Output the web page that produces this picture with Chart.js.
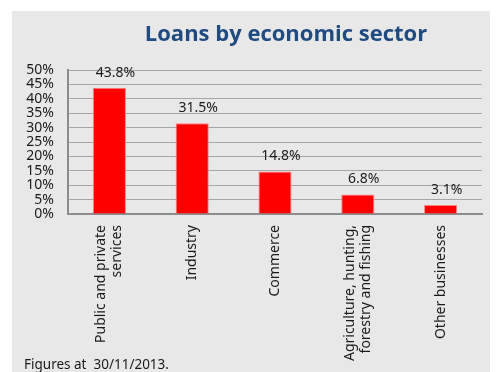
<!DOCTYPE html>
<html>
<head>
<meta charset="utf-8">
<script src="https://cdn.jsdelivr.net/npm/chart.js@4/dist/chart.umd.min.js"></script>
<style>
  html, body { margin: 0; padding: 0; background: #ffffff; }
  #wrap { width: 499px; height: 372px; position: relative; }
</style>
</head>
<body>
<div id="wrap"><canvas id="chart" width="499" height="372"></canvas></div>
<script>
const SECTORS = [
  ["Public and private", "services"],
  ["Industry"],
  ["Commerce"],
  ["Agriculture, hunting,", "forestry and fishing"],
  ["Other businesses"],
];
const SHARES = [43.8, 31.5, 14.8, 6.8, 3.1];
const Y_TICKS = [0, 5, 10, 15, 20, 25, 30, 35, 40, 45, 50];

const TITLE = "Loans by economic sector";
const FOOTNOTE = "Figures at  30/11/2013.";

const FONT = '"Noto Sans", "Open Sans", sans-serif';
const PANEL = "#e8e8e8";
const BAR_RED = "#ff0000";
const TITLE_BLUE = "#1f4b80";

// grey panel, title, footnote, value labels and rotated category labels
const decorations = {
  id: "decorations",
  beforeDraw(chart) {
    const ctx = chart.ctx;
    ctx.save();
    ctx.fillStyle = "#ffffff";
    ctx.fillRect(0, 0, chart.width, chart.height);
    ctx.fillStyle = PANEL;
    ctx.fillRect(12, 11, 478, chart.height - 11);
    ctx.restore();
  },
  afterDraw(chart) {
    const ctx = chart.ctx;
    const xScale = chart.scales.x;
    ctx.save();

    ctx.fillStyle = TITLE_BLUE;
    ctx.font = 'bold 22px "Open Sans", sans-serif';
    ctx.textAlign = "center";
    ctx.textBaseline = "alphabetic";
    ctx.fillText(TITLE, 286, 41);

    ctx.fillStyle = "#1a1a1a";
    ctx.font = "13.5px " + FONT;
    ctx.textAlign = "left";
    ctx.fillText(FOOTNOTE, 24, 369);

    // value labels above bars
    ctx.font = "14px " + FONT;
    const meta = chart.getDatasetMeta(0);
    ctx.textAlign = "center";
    ctx.textBaseline = "bottom";
    meta.data.forEach((bar, i) => {
      ctx.fillText(SHARES[i].toFixed(1) + "%", bar.x + 6, bar.y - 8);
    });

    // category labels, rotated to read bottom-to-top
    const lineH = 16;
    SECTORS.forEach((lines, i) => {
      const px = xScale.getPixelForTick(i);
      ctx.save();
      ctx.translate(px, xScale.top + 11);
      ctx.rotate(-Math.PI / 2);
      ctx.textAlign = "right";
      ctx.textBaseline = "middle";
      const offset = -((lines.length - 1) * lineH) / 2;
      lines.forEach((line, j) => {
        ctx.fillText(line, 0, offset + j * lineH);
      });
      ctx.restore();
    });

    ctx.restore();
  },
};

new Chart(document.getElementById("chart"), {
  type: "bar",
  data: {
    labels: SECTORS,
    datasets: [{
      data: SHARES,
      backgroundColor: BAR_RED,
      borderColor: "#ff8080",
      borderWidth: 1,
      barPercentage: 0.4,
      categoryPercentage: 1.0,
    }],
  },
  options: {
    responsive: false,
    animation: false,
    layout: { padding: { top: 70, right: 17, bottom: 0, left: 0 } },
    plugins: {
      legend: { display: false },
      title: { display: false },
      tooltip: { enabled: false },
    },
    scales: {
      x: {
        grid: { display: false, drawTicks: false },
        border: { color: "#8c8c8c", width: 2 },
        ticks: { display: false },
        afterFit(scale) { scale.height = 158; },
      },
      y: {
        min: 0,
        max: 50,
        afterBuildTicks(scale) {
          scale.ticks = Y_TICKS.map((v) => ({ value: v }));
        },
        grid: { color: "#a6a6a6", lineWidth: 1, drawTicks: false },
        border: { color: "#8c8c8c", width: 2 },
        ticks: {
          color: "#1a1a1a",
          font: { family: FONT, size: 14, lineHeight: 1 },
          padding: 14,
          autoSkip: false,
          callback: (v) => v + "%",
        },
        afterFit(scale) { scale.width = 68; },
      },
    },
  },
  plugins: [decorations],
});
</script>
</body>
</html>
